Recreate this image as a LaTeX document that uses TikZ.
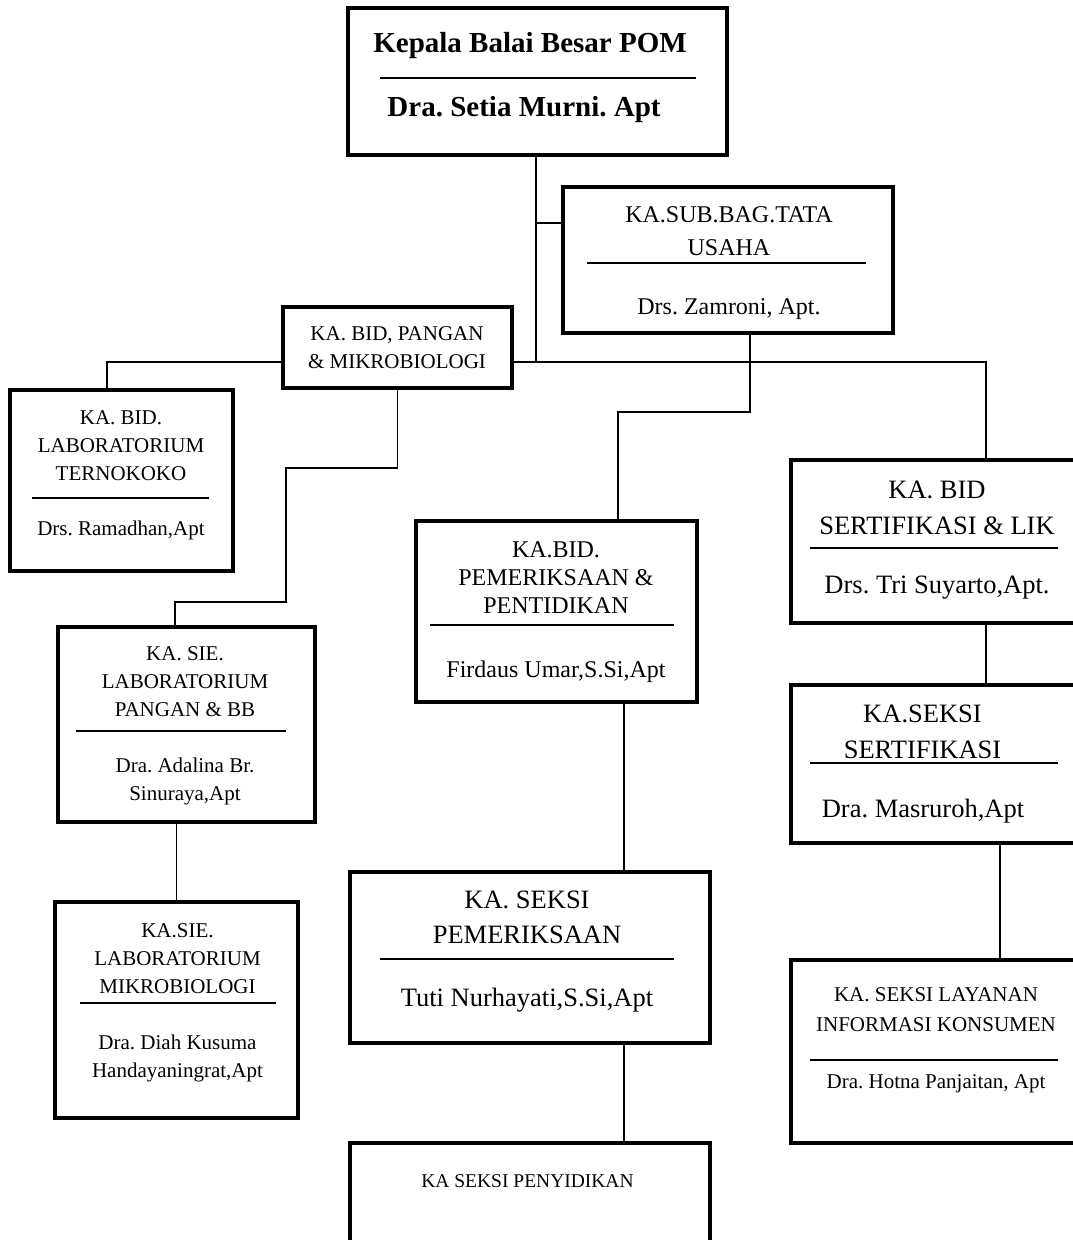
\documentclass[tikz,border=0pt]{standalone}
\usepackage{fontspec}
\setmainfont{Liberation Serif}
\frenchspacing

\begin{document}
\begin{tikzpicture}[x=1pt,y=-1pt,
  box/.style={draw,line width=4.5pt,inner sep=0pt},
  conn/.style={line width=1.6pt},
  sepline/.style={line width=2pt},
  tsmall/.style={align=center,font=\fontsize{21}{28}\selectfont},
  tmid/.style={align=center,font=\fontsize{24}{28}\selectfont},
  tlarge/.style={align=center,font=\fontsize{26.5}{36}\selectfont},
  ttitle/.style={align=center,font=\bfseries\fontsize{29}{34}\selectfont}]
\useasboundingbox (0,0) rectangle (1073,1240);
\clip (0,0) rectangle (1073,1240);
% boxes
\node[box,minimum width=379pt,minimum height=147pt] (kepala) at (537.5,81.5) {};
\node[box,minimum width=330pt,minimum height=146pt] (tu) at (728,260) {};
\node[box,minimum width=229pt,minimum height=81pt] (pangan) at (397.5,347.5) {};
\node[box,minimum width=223pt,minimum height=181pt] (terno) at (121.5,480.5) {};
\node[box,minimum width=281pt,minimum height=181pt] (bidpem) at (556.5,611.5) {};
\node[box,minimum width=320pt,minimum height=163pt] (bidser) at (951,541.5) {};
\node[box,minimum width=257pt,minimum height=195pt] (siepangan) at (186.5,724.5) {};
\node[box,minimum width=243pt,minimum height=216pt] (siemikro) at (176.5,1010) {};
\node[box,minimum width=360pt,minimum height=171pt] (seksipem) at (530,957.5) {};
\node[box,minimum width=360pt,minimum height=150pt] (penyidikan) at (530,1218) {};
\node[box,minimum width=320pt,minimum height=158pt] (seksiser) at (951,764) {};
\node[box,minimum width=320pt,minimum height=183pt] (layanan) at (951,1051.5) {};
% texts
\node[ttitle] (kepala-jab) at (530,46) {Kepala Balai Besar POM};
\draw[sepline] (380,78) -- (696,78);
\node[ttitle] (kepala-nama) at (524,110) {Dra. Setia Murni. Apt};
\node[tmid,font=\fontsize{24}{33}\selectfont] (tu-jab) at (729,231.5) {KA.SUB.BAG.TATA\\USAHA};
\draw[sepline] (587,263) -- (866,263);
\node[tmid] (tu-nama) at (729,309) {Drs. Zamroni, Apt.};
\node[tsmall] (pangan-jab) at (397,347.5) {KA. BID, PANGAN\\\& MIKROBIOLOGI};
\node[tsmall] (terno-jab) at (121,446) {KA. BID.\\LABORATORIUM\\TERNOKOKO};
\draw[sepline] (32,498) -- (209,498);
\node[tsmall] (terno-nama) at (121,530) {Drs. Ramadhan,Apt};
\node[tmid] (bidpem-jab) at (556,578) {KA.BID.\\PEMERIKSAAN \&\\PENTIDIKAN};
\draw[sepline] (430,625) -- (674,625);
\node[tmid] (bidpem-nama) at (556,672) {Firdaus Umar,S.Si,Apt};
\node[tlarge] (bidser-jab) at (937,507.5) {KA. BID\\SERTIFIKASI \& LIK};
\draw[sepline] (810,548) -- (1058,548);
\node[tlarge] (bidser-nama) at (937,588) {Drs. Tri Suyarto,Apt.};
\node[tsmall] (siepangan-jab) at (185,682) {KA. SIE.\\LABORATORIUM\\PANGAN \& BB};
\draw[sepline] (76,731) -- (286,731);
\node[tsmall] (siepangan-nama) at (185,781) {Dra. Adalina Br.\\Sinuraya,Apt};
\node[tsmall] (siemikro-jab) at (177.5,959) {KA.SIE.\\LABORATORIUM\\MIKROBIOLOGI};
\draw[sepline] (80,1003) -- (276,1003);
\node[tsmall] (siemikro-nama) at (177.5,1058) {Dra. Diah Kusuma\\Handayaningrat,Apt};
\node[tlarge,font=\fontsize{26.5}{35}\selectfont] (seksipem-jab) at (527,917.5) {KA. SEKSI\\PEMERIKSAAN};
\draw[sepline] (380,959) -- (674,959);
\node[tlarge] (seksipem-nama) at (527,1000) {Tuti Nurhayati,S.Si,Apt};
\node[tsmall,font=\fontsize{19.5}{24}\selectfont] (penyidikan-jab) at (527.5,1181) {KA SEKSI PENYIDIKAN};
\node[tlarge] (seksiser-jab) at (922.5,731.5) {KA.SEKSI\\SERTIFIKASI};
\draw[sepline] (810,763) -- (1058,763);
\node[tlarge] (seksiser-nama) at (923,811) {Dra. Masruroh,Apt};
\node[tsmall,font=\fontsize{21}{30}\selectfont] (layanan-jab) at (936,1010) {KA. SEKSI LAYANAN\\INFORMASI KONSUMEN};
\draw[sepline] (810,1060) -- (1058,1060);
\node[tsmall] (layanan-nama) at (936,1084) {Dra. Hotna Panjaitan, Apt};
% connectors
\coordinate (hub) at (536,362);
\coordinate (tujoin) at (536,223);
\coordinate (tustep) at (618,412);
\coordinate (pgstep1) at (286,468);
\coordinate (pgstep2) at (175,602);
\coordinate (ternocol) at (107,0);
\coordinate (tucol) at (750,0);
\coordinate (pemcol) at (624,0);
\coordinate (sercol) at (986,0);
\coordinate (laycol) at (1000,0);
\draw[conn] (kepala.south -| hub) -- (hub);
\draw[conn] (tujoin) -- (tujoin -| tu.west);
\draw[conn] (terno.north -| ternocol) |- (hub -| pangan.west);
\draw[conn] (hub -| pangan.east) -| (bidser.north -| sercol);
\draw[conn] (tu.south -| tucol) |- (tustep) -- (tustep |- bidpem.north);
\draw[conn] (pangan.south) |- (pgstep1) |- (pgstep2) -- (pgstep2 |- siepangan.north);
\draw[conn] (siepangan.south -| siemikro.north) -- (siemikro.north);
\draw[conn] (bidpem.south -| pemcol) -- (seksipem.north -| pemcol);
\draw[conn] (seksipem.south -| pemcol) -- (penyidikan.north -| pemcol);
\draw[conn] (bidser.south -| sercol) -- (seksiser.north -| sercol);
\draw[conn] (seksiser.south -| laycol) -- (layanan.north -| laycol);
\end{tikzpicture}
\end{document}
